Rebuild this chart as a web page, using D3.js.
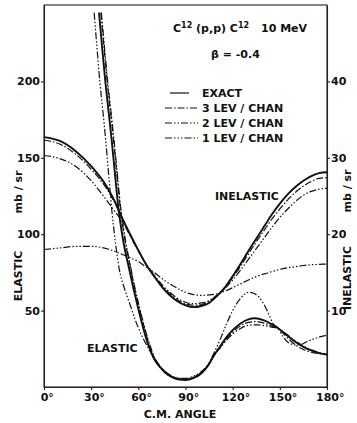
<!DOCTYPE html>
<html>
<head>
<meta charset="utf-8">
<script src="https://cdn.jsdelivr.net/npm/d3@7"></script>
<style>
  body { margin: 0; background: #fff; }
  svg text { font-family: "DejaVu Sans", sans-serif; font-weight: bold; fill: #111; }
</style>
</head>
<body>
<figure id="chart" style="margin:0"></figure>
<script>
// values (angle in degrees, cross section in mb/sr)
const angleTicks = [0, 30, 60, 90, 120, 150, 180];
const elasticTicks = [50, 100, 150, 200];
const inelasticTicks = [10, 20, 30, 40];
const legendLabels = ["EXACT", "3 LEV / CHAN", "2 LEV / CHAN", "1 LEV / CHAN"];

// elastic, left axis
const elasticExact = [[35,245],[37,222],[39,200],[41,181],[43,162],[45,141],[47,120],[50,98],[54,78],[57,64],[60,51],[63,39],[66,28.5],[70,18.5],[74,12.8],[78,8.6],[82,6.1],[86,4.9],[90,4.6],[95,5.8],[100,8.8],[105,15],[108,20.5],[112,26.5],[116,32.5],[120,37.2],[125,41.6],[130,44.3],[134,45],[140,43.6],[145,41],[149,38.5],[155,33.5],[160,29.5],[165,26.3],[170,23.9],[175,22.2],[180,21.3]];
const elastic3 = [[36.2,245],[38.2,222],[40.2,200],[42.2,181],[44.2,162],[46.2,141],[48.2,120],[51.2,98],[55,78],[58,63],[61,50],[64,38],[67,27.5],[70.5,18.5],[74,13.2],[78,9],[82,6.4],[86,5.1],[90,4.9],[95,6],[100,9],[105,15],[108,20.5],[112,26],[116,31.5],[120,36],[125,40],[130,42.3],[135,42.8],[140,41.8],[145,39.8],[149,38],[155,32],[160,27.5],[165,24.5],[170,22.8],[175,21.8],[180,21.2]];
const elastic2 = [[36.5,245],[38.5,222],[40.5,200],[42.5,181],[44.5,162],[46.5,141],[48.5,120],[51.5,98],[55.2,78],[58,64],[61,51],[64,39],[67,28.5],[70.5,19],[74,13.5],[78,9.5],[82,7],[86,5.8],[90,5.5],[95,6.5],[100,9.4],[105,15],[108,20.5],[112,25.5],[116,30.5],[120,34.7],[125,38.3],[130,40.3],[136,40.7],[140,40.2],[145,39.2],[149,38.2],[155,34],[160,30],[165,26.8],[170,24.3],[175,22.5],[180,21.6]];
const elastic1 = [[31.9,245],[33.7,222],[35.5,200],[37.3,182],[39.2,162],[41.2,138],[43.1,116],[45.5,94],[47.9,77],[51,65],[54.7,54],[58,44],[62,34],[66,26],[70,18.5],[74,12.5],[78,8.5],[82,6.5],[86,5.6],[90,5.6],[95,7],[100,10],[104,14.5],[107.5,21],[112,31],[116,41],[120,50],[125,58],[130,62],[134,61],[139.5,54.8],[143,47.5],[146,41],[149,38.4],[152,33],[156,28.7],[160,27.5],[164,28],[167,29.6],[172,31.6],[176,33],[180,34]];

// inelastic, right axis
const inelasticExact = [[0,32.7],[10,32.2],[20,30.9],[30,28.9],[40,26.2],[45,24.3],[50,22],[55,19.9],[60,17.9],[65,16],[70,14.5],[75,13.1],[80,12],[85,11.2],[90,10.7],[95,10.45],[100,10.6],[105,11],[110,11.9],[115,13],[120,14.5],[125,16.1],[130,17.8],[135,19.4],[140,21],[145,22.6],[150,24],[155,25.2],[160,26.2],[165,27],[170,27.6],[175,28],[180,28.1]];
const inelastic3 = [[0,32.3],[10,31.8],[20,30.5],[30,28.5],[40,25.9],[45,24.1],[50,21.9],[55,19.8],[60,17.9],[65,16.1],[70,14.6],[75,13.3],[80,12.2],[85,11.4],[90,10.9],[95,10.7],[100,10.8],[105,11.2],[110,12],[115,13],[120,14.3],[125,15.8],[130,17.4],[135,19],[140,20.5],[145,22],[150,23.3],[155,24.5],[160,25.5],[165,26.3],[170,26.9],[175,27.3],[180,27.4]];
const inelastic2 = [[0,30.3],[10,29.9],[20,28.9],[30,27],[40,24.4],[45,23],[50,21.6],[55,19.7],[60,17.8],[65,16.1],[70,14.7],[75,13.4],[80,12.4],[85,11.6],[90,11.1],[95,10.9],[100,11],[105,11.3],[110,12],[115,12.9],[120,14],[125,15.3],[130,16.7],[135,18.1],[140,19.5],[145,20.9],[150,22.2],[155,23.3],[160,24.3],[165,25.1],[170,25.6],[175,25.9],[180,26]];
const inelastic1 = [[0,18],[10,18.2],[20,18.4],[30,18.4],[40,18.1],[48,17.5],[55,16.9],[60,16.4],[65,15.7],[70,15],[75,14.2],[80,13.5],[85,12.9],[90,12.4],[95,12.1],[100,12],[105,12.05],[110,12.2],[115,12.55],[120,13],[125,13.5],[130,14],[135,14.45],[140,14.8],[145,15.1],[150,15.4],[155,15.6],[160,15.75],[165,15.9],[170,16],[175,16.05],[180,16.1]];

const width = 357, height = 423;
const plotLeft = 44, plotRight = 327, plotTop = 5, plotBottom = 387;

// line look per approximation: exact, 3 lev, 2 lev, 1 lev
const dashes = [null, "7,2,1.5,2", "7,2,1.5,2,1.5,2", "7,2,1.5,2,1.5,2,1.5,2"];
const widths = [1.9, 1.2, 1.2, 1.2];

const svg = d3.select("#chart").append("svg")
  .attr("width", width)
  .attr("height", height);

const x = d3.scaleLinear().domain([0, 180]).range([plotLeft, plotRight]);
const yEl = d3.scaleLinear().domain([0, 250]).range([plotBottom, plotTop]);
const yIn = d3.scaleLinear().domain([0, 50]).range([plotBottom, plotTop]);

// frame
svg.append("rect")
  .attr("x", plotLeft).attr("y", plotTop)
  .attr("width", plotRight - plotLeft).attr("height", plotBottom - plotTop)
  .attr("fill", "none").attr("stroke", "#222").attr("stroke-width", 1.1);

const xAxis = svg.append("g")
  .attr("transform", `translate(0,${plotBottom})`)
  .call(d3.axisBottom(x).tickValues(angleTicks).tickSize(3).tickSizeOuter(0).tickPadding(3));

svg.append("g")
  .attr("transform", `translate(${plotLeft},0)`)
  .call(d3.axisLeft(yEl).tickValues(elasticTicks).tickSize(3).tickSizeOuter(0).tickPadding(1));

svg.append("g")
  .attr("transform", `translate(${plotRight},0)`)
  .call(d3.axisRight(yIn).tickValues(inelasticTicks).tickSize(3).tickSizeOuter(0).tickPadding(1));

svg.selectAll(".domain").attr("stroke", "#222").attr("stroke-width", 1.1);
svg.selectAll(".tick line").attr("stroke", "#222").attr("stroke-width", 1.1);
svg.selectAll(".tick text").attr("font-size", 11).attr("font-family", "DejaVu Sans").attr("font-weight", "bold").attr("fill", "#111");

// degree marks: keep the number centred on the tick
xAxis.selectAll(".tick text").each(function() {
  const t = d3.select(this);
  const w = this.getComputedTextLength();
  t.attr("text-anchor", "start").attr("x", -w / 2);
  t.append("tspan").text("°");
});

// curves
const lineEl = d3.line().x(d => x(d[0])).y(d => yEl(d[1])).curve(d3.curveMonotoneX);
const lineIn = d3.line().x(d => x(d[0])).y(d => yIn(d[1])).curve(d3.curveMonotoneX);

const elasticSeries = [elasticExact, elastic3, elastic2, elastic1];
const inelasticSeries = [inelasticExact, inelastic3, inelastic2, inelastic1];

elasticSeries.forEach((s, i) => {
  svg.append("path").datum(s)
    .attr("d", lineEl)
    .attr("fill", "none").attr("stroke", "#111")
    .attr("stroke-width", widths[i])
    .attr("stroke-dasharray", dashes[i]);
});
inelasticSeries.forEach((s, i) => {
  svg.append("path").datum(s)
    .attr("d", lineIn)
    .attr("fill", "none").attr("stroke", "#111")
    .attr("stroke-width", widths[i])
    .attr("stroke-dasharray", dashes[i]);
});

// title
const title = svg.append("text").attr("x", 173).attr("y", 32).style("font-size", "11px");
title.append("tspan").text("C");
title.append("tspan").attr("dy", -4).style("font-size", "8px").text("12");
title.append("tspan").attr("dy", 4).text(" (p,p) C");
title.append("tspan").attr("dy", -4).style("font-size", "8px").text("12");
svg.append("text").attr("x", 261).attr("y", 32).style("font-size", "11px").text("10 MeV");
svg.append("text").attr("x", 211).attr("y", 58).style("font-size", "11px").text("β = -0.4");

// legend
legendLabels.forEach((lab, i) => {
  const yy = 97 + i * 15;
  svg.append("line")
    .attr("x1", i === 0 ? 170 : 165).attr("x2", i === 0 ? 189 : 198)
    .attr("y1", yy - 4).attr("y2", yy - 4)
    .attr("stroke", "#111").attr("stroke-width", 1.2)
    .attr("stroke-dasharray", dashes[i]);
  svg.append("text").attr("x", 202).attr("y", yy).style("font-size", "11px").text(lab);
});

// curve labels
svg.append("text").attr("x", 87).attr("y", 352).style("font-size", "11px").text("ELASTIC");
svg.append("text").attr("x", 215).attr("y", 200).style("font-size", "11px").text("INELASTIC");

// axis titles
svg.append("text").attr("transform", "translate(22,192) rotate(-90)")
  .attr("text-anchor", "middle").style("font-size", "11px").text("mb / sr");
svg.append("text").attr("transform", "translate(22,276) rotate(-90)")
  .attr("text-anchor", "middle").style("font-size", "11px").text("ELASTIC");
svg.append("text").attr("transform", "translate(351,191) rotate(-90)")
  .attr("text-anchor", "middle").style("font-size", "11px").text("mb / sr");
svg.append("text").attr("transform", "translate(351,278) rotate(-90)")
  .attr("text-anchor", "middle").style("font-size", "11px").text("INELASTIC");
svg.append("text").attr("x", 180).attr("y", 418)
  .attr("text-anchor", "middle").style("font-size", "11px").text("C.M. ANGLE");
</script>
</body>
</html>
